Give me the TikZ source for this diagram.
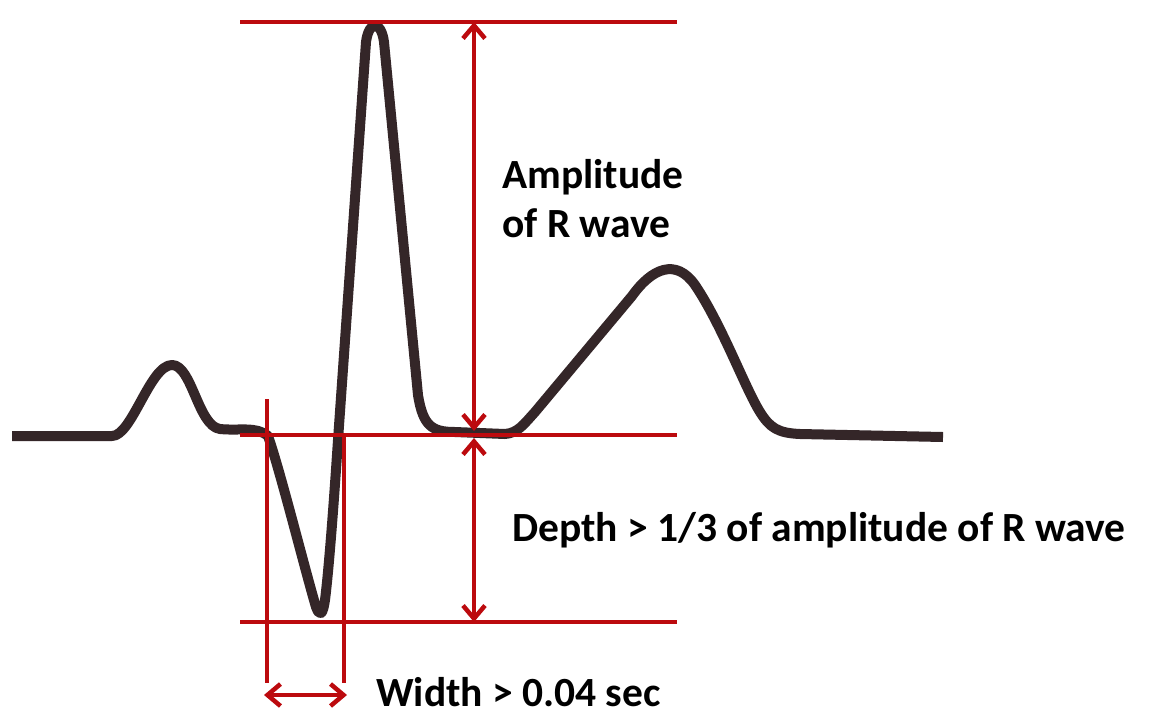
\documentclass[tikz,border=0pt]{standalone}
\usepackage{fontspec}
\setmainfont{Carlito}
\usetikzlibrary{arrows.meta}
\definecolor{ekgred}{RGB}{188,10,14}
\definecolor{ekgwave}{RGB}{52,38,40}
\begin{document}
\begin{tikzpicture}[x=1pt,y=-1pt,
  guide/.style={draw=ekgred,line width=4.5pt},
  measure/.style={draw=ekgred,line width=4.5pt,{Straight Barb[length=13pt,width=22pt,line width=4.5pt]}-{Straight Barb[length=13pt,width=22pt,line width=4.5pt]}},
  wave/.style={draw=ekgwave,line width=10pt,line join=round,line cap=butt},
  lbl/.style={font=\bfseries\fontsize{41.5}{45}\selectfont,inner sep=0pt,anchor=base west,text=black}]
\useasboundingbox (0,0) rectangle (1154,726);
\fill[white] (0,0) rectangle (1154,726);
% ECG wave
\draw[wave] (12,436) -- (112,436)
  .. controls (132,436) and (150,365) .. (172,365)
  .. controls (192,365) and (198,426) .. (220,429)
  .. controls (240,431) and (256,426) .. (268,436)
  .. controls (280,470) and (305,570) .. (316,607)
  .. controls (320,618) and (323,614) .. (325,600)
  .. controls (330,560) and (336,470) .. (338,440)
  -- (366,42)
  .. controls (369,20) and (381,20) .. (384,42)
  -- (418,395)
  .. controls (423,426) and (432,432) .. (455,432)
  -- (505,434)
  .. controls (518,433) and (524,424) .. (535,412)
  -- (632,296)
  .. controls (652,268) and (676,258) .. (695,285)
  .. controls (722,325) and (745,388) .. (760,412)
  .. controls (770,428) and (778,433) .. (800,434)
  -- (943,437);
% guide lines
\coordinate (topL) at (240,22);   \coordinate (topR) at (677,22);
\coordinate (midL) at (240,435);  \coordinate (midR) at (677,435);
\coordinate (botL) at (240,622);  \coordinate (botR) at (677,622);
\coordinate (vlT) at (267,399);   \coordinate (vlB) at (267,683);
\coordinate (vrT) at (344,433);   \coordinate (vrB) at (344,683);
\draw[guide] (topL) -- (topR);
\draw[guide] (midL) -- (midR);
\draw[guide] (botL) -- (botR);
\draw[guide] (vlT) -- (vlB);
\draw[guide] (vrT) -- (vrB);
% measurement arrows
\coordinate (ampT) at (474,22);  \coordinate (ampB) at (474,431);
\coordinate (depT) at (474,438); \coordinate (depB) at (474,622);
\coordinate (widL) at (264,695); \coordinate (widR) at (347,695);
\draw[measure] (ampT) -- (ampB);
\draw[measure] (depT) -- (depB);
\draw[measure] (widL) -- (widR);
% labels
\node[lbl] (amp1) at (502,188) {Amplitude};
\node[lbl] (amp2) at (502,237) {of R wave};
\node[lbl] (depth) at (512,541) {Depth > 1/3 of amplitude of R wave};
\node[lbl] (width) at (376,706) {Width > 0.04 sec};
\end{tikzpicture}
\end{document}
